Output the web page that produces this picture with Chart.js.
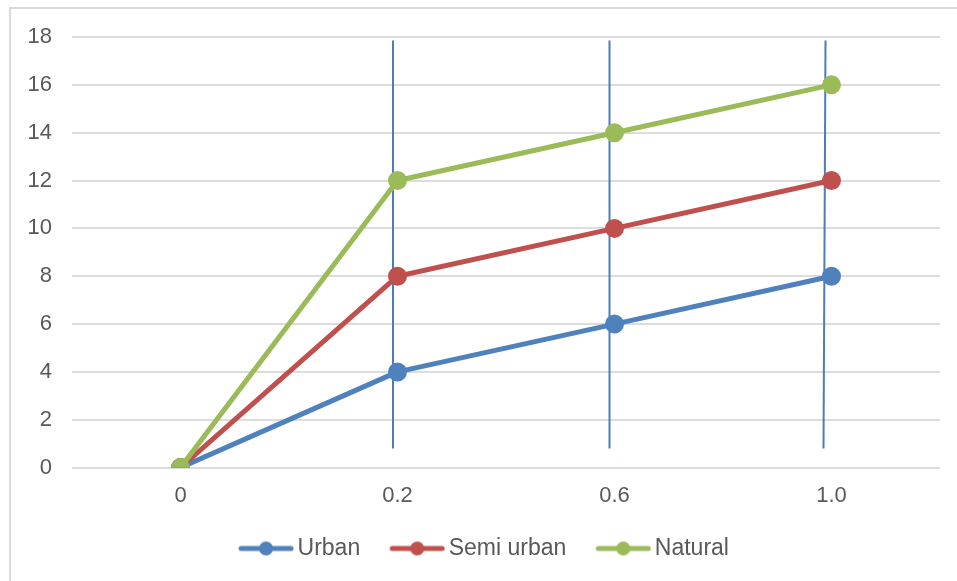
<!DOCTYPE html>
<html>
<head>
<title>Urban / Semi urban / Natural</title>
<script src="https://cdn.jsdelivr.net/npm/chart.js"></script>
<style>
  body { margin: 0; background: #fff; }
  #frame { position: absolute; left: 9px; top: 7px; width: 948px; height: 574px;
           border-top: 2px solid #d9d9d9; border-left: 2px solid #d9d9d9; }
  canvas { display: block; }
</style>
</head>
<body>
<div id="frame"><canvas id="chart" width="946" height="572"></canvas></div>
<script>
// chart data
const categories = ['0', '0.2', '0.6', '1.0'];
const urban = [0, 4, 6, 8];
const semiUrban = [0, 8, 10, 12];
const natural = [0, 12, 14, 16];
const yTicks = [0, 2, 4, 6, 8, 10, 12, 14, 16, 18];

// the thin vertical guide lines drawn over the plot
const guideCats = ['0.2', '0.6', '1.0'];
const guideTop = 17.85;
const guideBottom = 0.8;

const seriesColors = ['#4f81bd', '#c0504d', '#9bbb59'];
const textColor = '#595959';
const fontFamily = "'Liberation Sans', Arial, sans-serif";

// legend marker: line with a dot in the middle, transparent room on the left
// so the marker sits close to its text and items keep their spacing
function legendMarker(color) {
    const c = document.createElement('canvas');
    c.width = 80; c.height = 16;
    const g = c.getContext('2d');
    g.strokeStyle = color; g.lineWidth = 5; g.lineCap = 'round';
    g.beginPath(); g.moveTo(27, 8); g.lineTo(77, 8); g.stroke();
    g.fillStyle = color;
    g.beginPath(); g.arc(52, 8, 7, 0, Math.PI * 2); g.fill();
    return c;
}
const markers = seriesColors.map(legendMarker);

const guideLines = {
    id: 'guideLines',
    beforeDatasetsDraw(chart, args, opts) {
        const xs = chart.scales.x, ys = chart.scales.y, ctx = chart.ctx;
        ctx.save();
        ctx.strokeStyle = opts.color;
        ctx.lineWidth = opts.width;
        guideCats.forEach((cat, i) => {
            const px = xs.getPixelForValue(categories.indexOf(cat));
            ctx.beginPath();
            ctx.moveTo(px + opts.topShift[i], ys.getPixelForValue(guideTop));
            ctx.lineTo(px + opts.bottomShift[i], ys.getPixelForValue(guideBottom));
            ctx.stroke();
        });
        ctx.restore();
    }
};

function series(label, data, idx) {
    return {
        label: label,
        data: data,
        borderColor: seriesColors[idx],
        backgroundColor: seriesColors[idx],
        pointBackgroundColor: seriesColors[idx],
        pointBorderColor: seriesColors[idx],
        borderWidth: 5,
        pointRadius: 7,
        pointHoverRadius: 7,
        borderCapStyle: 'round',
        borderJoinStyle: 'round',
        order: 3 - idx
    };
}

new Chart(document.getElementById('chart'), {
    type: 'line',
    data: {
        labels: categories,
        datasets: [
            series('Urban', urban, 0),
            series('Semi urban', semiUrban, 1),
            series('Natural', natural, 2)
        ]
    },
    plugins: [guideLines],
    options: {
        responsive: false,
        animation: false,
        layout: { padding: { top: 28, right: 17, left: 0, bottom: 11 } },
        scales: {
            x: {
                offset: true,
                grid: { display: false, drawTicks: false },
                border: { display: false },
                ticks: { padding: 15, color: textColor, font: { family: fontFamily, size: 22 } }
            },
            y: {
                min: 0, max: 18,
                afterBuildTicks: s => { s.ticks = yTicks.map(v => ({ value: v })); },
                afterFit: s => { s.width = 61; },
                // invisible tick marks hold the gap between labels and plot
                grid: { color: '#dcdcdc', lineWidth: 2, drawTicks: true, tickLength: 20, tickColor: 'rgba(0,0,0,0)' },
                border: { display: false },
                ticks: { padding: 0, color: textColor, font: { family: fontFamily, size: 22 } }
            }
        },
        plugins: {
            tooltip: { enabled: false },
            guideLines: { color: '#4a7ebb', width: 2, topShift: [-4.5, -5, -6], bottomShift: [-4.5, -5, -8] },
            legend: {
                position: 'bottom',
                labels: {
                    usePointStyle: true,
                    pointStyleWidth: 64,
                    padding: 13,
                    color: textColor,
                    font: { family: fontFamily, size: 23 },
                    sort: (a, b) => a.datasetIndex - b.datasetIndex,
                    generateLabels: chart => Chart.defaults.plugins.legend.labels.generateLabels(chart)
                        .map(item => Object.assign(item, { pointStyle: markers[item.datasetIndex] }))
                }
            }
        }
    }
});
</script>
</body>
</html>
